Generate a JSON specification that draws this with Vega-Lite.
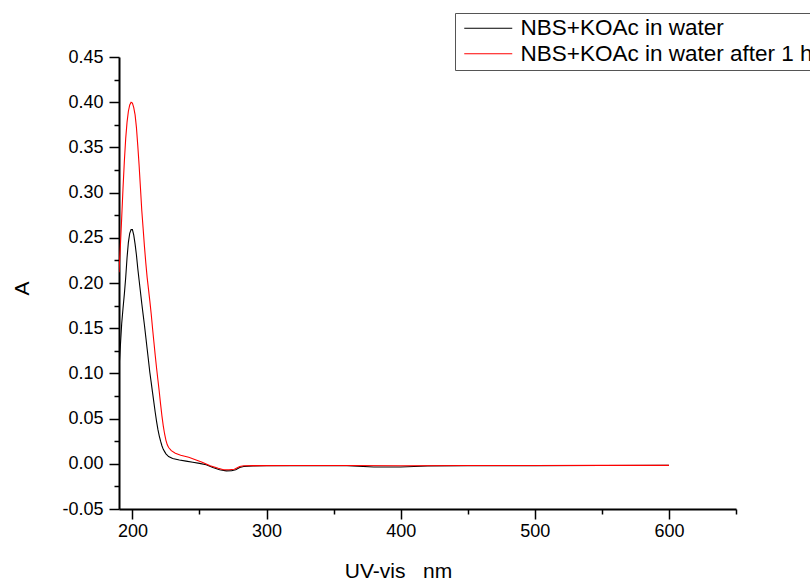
{
  "$schema": "https://vega.github.io/schema/vega-lite/v6.json",
  "width": 617,
  "height": 452,
  "autosize": {"type": "none"},
  "padding": {"left": 119, "top": 57, "right": 74, "bottom": 72},
  "background": "white",
  "config": {
    "view": {"stroke": null},
    "font": "Liberation Sans",
    "axis": {"grid": false, "domainColor": "#000", "tickColor": "#000", "labelColor": "#000", "titleColor": "#000", "labelFont": "Liberation Sans", "titleFont": "Liberation Sans", "titleFontWeight": "normal", "domainWidth": 2, "tickWidth": 1.5}
  },
  "datasets": {
    "spec": [
      {"nm": 190, "A": 0.105, "s": "NBS+KOAc in water"},
      {"nm": 191, "A": 0.13, "s": "NBS+KOAc in water"},
      {"nm": 192, "A": 0.155, "s": "NBS+KOAc in water"},
      {"nm": 193, "A": 0.172, "s": "NBS+KOAc in water"},
      {"nm": 194, "A": 0.188, "s": "NBS+KOAc in water"},
      {"nm": 195, "A": 0.206, "s": "NBS+KOAc in water"},
      {"nm": 196, "A": 0.228, "s": "NBS+KOAc in water"},
      {"nm": 197, "A": 0.245, "s": "NBS+KOAc in water"},
      {"nm": 198, "A": 0.255, "s": "NBS+KOAc in water"},
      {"nm": 199, "A": 0.259, "s": "NBS+KOAc in water"},
      {"nm": 200, "A": 0.259, "s": "NBS+KOAc in water"},
      {"nm": 201, "A": 0.253, "s": "NBS+KOAc in water"},
      {"nm": 202, "A": 0.243, "s": "NBS+KOAc in water"},
      {"nm": 203, "A": 0.231, "s": "NBS+KOAc in water"},
      {"nm": 204, "A": 0.216, "s": "NBS+KOAc in water"},
      {"nm": 205, "A": 0.203, "s": "NBS+KOAc in water"},
      {"nm": 206, "A": 0.19, "s": "NBS+KOAc in water"},
      {"nm": 207, "A": 0.177, "s": "NBS+KOAc in water"},
      {"nm": 208, "A": 0.165, "s": "NBS+KOAc in water"},
      {"nm": 209, "A": 0.153, "s": "NBS+KOAc in water"},
      {"nm": 210, "A": 0.14, "s": "NBS+KOAc in water"},
      {"nm": 211, "A": 0.127, "s": "NBS+KOAc in water"},
      {"nm": 212, "A": 0.114, "s": "NBS+KOAc in water"},
      {"nm": 213, "A": 0.101, "s": "NBS+KOAc in water"},
      {"nm": 214, "A": 0.09, "s": "NBS+KOAc in water"},
      {"nm": 215, "A": 0.079, "s": "NBS+KOAc in water"},
      {"nm": 216, "A": 0.068, "s": "NBS+KOAc in water"},
      {"nm": 217, "A": 0.057, "s": "NBS+KOAc in water"},
      {"nm": 218, "A": 0.047, "s": "NBS+KOAc in water"},
      {"nm": 219, "A": 0.038, "s": "NBS+KOAc in water"},
      {"nm": 220, "A": 0.031, "s": "NBS+KOAc in water"},
      {"nm": 221, "A": 0.025, "s": "NBS+KOAc in water"},
      {"nm": 222, "A": 0.02, "s": "NBS+KOAc in water"},
      {"nm": 223, "A": 0.016, "s": "NBS+KOAc in water"},
      {"nm": 224, "A": 0.0135, "s": "NBS+KOAc in water"},
      {"nm": 225, "A": 0.011, "s": "NBS+KOAc in water"},
      {"nm": 227, "A": 0.008, "s": "NBS+KOAc in water"},
      {"nm": 230, "A": 0.0058, "s": "NBS+KOAc in water"},
      {"nm": 235, "A": 0.0042, "s": "NBS+KOAc in water"},
      {"nm": 240, "A": 0.003, "s": "NBS+KOAc in water"},
      {"nm": 245, "A": 0.0018, "s": "NBS+KOAc in water"},
      {"nm": 250, "A": 0.0005, "s": "NBS+KOAc in water"},
      {"nm": 255, "A": -0.001, "s": "NBS+KOAc in water"},
      {"nm": 260, "A": -0.004, "s": "NBS+KOAc in water"},
      {"nm": 265, "A": -0.0065, "s": "NBS+KOAc in water"},
      {"nm": 270, "A": -0.0078, "s": "NBS+KOAc in water"},
      {"nm": 274, "A": -0.0077, "s": "NBS+KOAc in water"},
      {"nm": 277, "A": -0.0065, "s": "NBS+KOAc in water"},
      {"nm": 280, "A": -0.004, "s": "NBS+KOAc in water"},
      {"nm": 283, "A": -0.003, "s": "NBS+KOAc in water"},
      {"nm": 290, "A": -0.0025, "s": "NBS+KOAc in water"},
      {"nm": 300, "A": -0.0022, "s": "NBS+KOAc in water"},
      {"nm": 320, "A": -0.002, "s": "NBS+KOAc in water"},
      {"nm": 340, "A": -0.0022, "s": "NBS+KOAc in water"},
      {"nm": 360, "A": -0.002, "s": "NBS+KOAc in water"},
      {"nm": 380, "A": -0.0035, "s": "NBS+KOAc in water"},
      {"nm": 400, "A": -0.0036, "s": "NBS+KOAc in water"},
      {"nm": 420, "A": -0.0025, "s": "NBS+KOAc in water"},
      {"nm": 450, "A": -0.002, "s": "NBS+KOAc in water"},
      {"nm": 500, "A": -0.002, "s": "NBS+KOAc in water"},
      {"nm": 550, "A": -0.0018, "s": "NBS+KOAc in water"},
      {"nm": 600, "A": -0.0017, "s": "NBS+KOAc in water"},
      {"nm": 190, "A": 0.212, "s": "NBS+KOAc in water after 1 h"},
      {"nm": 191, "A": 0.24, "s": "NBS+KOAc in water after 1 h"},
      {"nm": 192, "A": 0.272, "s": "NBS+KOAc in water after 1 h"},
      {"nm": 193, "A": 0.305, "s": "NBS+KOAc in water after 1 h"},
      {"nm": 194, "A": 0.335, "s": "NBS+KOAc in water after 1 h"},
      {"nm": 195, "A": 0.36, "s": "NBS+KOAc in water after 1 h"},
      {"nm": 196, "A": 0.378, "s": "NBS+KOAc in water after 1 h"},
      {"nm": 197, "A": 0.39, "s": "NBS+KOAc in water after 1 h"},
      {"nm": 198, "A": 0.397, "s": "NBS+KOAc in water after 1 h"},
      {"nm": 199, "A": 0.4, "s": "NBS+KOAc in water after 1 h"},
      {"nm": 200, "A": 0.399, "s": "NBS+KOAc in water after 1 h"},
      {"nm": 201, "A": 0.394, "s": "NBS+KOAc in water after 1 h"},
      {"nm": 202, "A": 0.386, "s": "NBS+KOAc in water after 1 h"},
      {"nm": 203, "A": 0.372, "s": "NBS+KOAc in water after 1 h"},
      {"nm": 204, "A": 0.352, "s": "NBS+KOAc in water after 1 h"},
      {"nm": 205, "A": 0.33, "s": "NBS+KOAc in water after 1 h"},
      {"nm": 206, "A": 0.305, "s": "NBS+KOAc in water after 1 h"},
      {"nm": 207, "A": 0.28, "s": "NBS+KOAc in water after 1 h"},
      {"nm": 208, "A": 0.26, "s": "NBS+KOAc in water after 1 h"},
      {"nm": 209, "A": 0.24, "s": "NBS+KOAc in water after 1 h"},
      {"nm": 210, "A": 0.222, "s": "NBS+KOAc in water after 1 h"},
      {"nm": 211, "A": 0.206, "s": "NBS+KOAc in water after 1 h"},
      {"nm": 212, "A": 0.193, "s": "NBS+KOAc in water after 1 h"},
      {"nm": 213, "A": 0.18, "s": "NBS+KOAc in water after 1 h"},
      {"nm": 214, "A": 0.166, "s": "NBS+KOAc in water after 1 h"},
      {"nm": 215, "A": 0.15, "s": "NBS+KOAc in water after 1 h"},
      {"nm": 216, "A": 0.135, "s": "NBS+KOAc in water after 1 h"},
      {"nm": 217, "A": 0.12, "s": "NBS+KOAc in water after 1 h"},
      {"nm": 218, "A": 0.106, "s": "NBS+KOAc in water after 1 h"},
      {"nm": 219, "A": 0.093, "s": "NBS+KOAc in water after 1 h"},
      {"nm": 220, "A": 0.08, "s": "NBS+KOAc in water after 1 h"},
      {"nm": 221, "A": 0.066, "s": "NBS+KOAc in water after 1 h"},
      {"nm": 222, "A": 0.053, "s": "NBS+KOAc in water after 1 h"},
      {"nm": 223, "A": 0.042, "s": "NBS+KOAc in water after 1 h"},
      {"nm": 224, "A": 0.033, "s": "NBS+KOAc in water after 1 h"},
      {"nm": 225, "A": 0.026, "s": "NBS+KOAc in water after 1 h"},
      {"nm": 226, "A": 0.021, "s": "NBS+KOAc in water after 1 h"},
      {"nm": 227, "A": 0.018, "s": "NBS+KOAc in water after 1 h"},
      {"nm": 229, "A": 0.0145, "s": "NBS+KOAc in water after 1 h"},
      {"nm": 232, "A": 0.0116, "s": "NBS+KOAc in water after 1 h"},
      {"nm": 236, "A": 0.0095, "s": "NBS+KOAc in water after 1 h"},
      {"nm": 242, "A": 0.0072, "s": "NBS+KOAc in water after 1 h"},
      {"nm": 248, "A": 0.004, "s": "NBS+KOAc in water after 1 h"},
      {"nm": 252, "A": 0.0018, "s": "NBS+KOAc in water after 1 h"},
      {"nm": 258, "A": -0.0022, "s": "NBS+KOAc in water after 1 h"},
      {"nm": 264, "A": -0.005, "s": "NBS+KOAc in water after 1 h"},
      {"nm": 268, "A": -0.0065, "s": "NBS+KOAc in water after 1 h"},
      {"nm": 272, "A": -0.0066, "s": "NBS+KOAc in water after 1 h"},
      {"nm": 276, "A": -0.006, "s": "NBS+KOAc in water after 1 h"},
      {"nm": 280, "A": -0.003, "s": "NBS+KOAc in water after 1 h"},
      {"nm": 283, "A": -0.0022, "s": "NBS+KOAc in water after 1 h"},
      {"nm": 290, "A": -0.002, "s": "NBS+KOAc in water after 1 h"},
      {"nm": 320, "A": -0.0018, "s": "NBS+KOAc in water after 1 h"},
      {"nm": 360, "A": -0.0019, "s": "NBS+KOAc in water after 1 h"},
      {"nm": 400, "A": -0.0022, "s": "NBS+KOAc in water after 1 h"},
      {"nm": 450, "A": -0.0019, "s": "NBS+KOAc in water after 1 h"},
      {"nm": 500, "A": -0.0018, "s": "NBS+KOAc in water after 1 h"},
      {"nm": 550, "A": -0.0017, "s": "NBS+KOAc in water after 1 h"},
      {"nm": 600, "A": -0.0017, "s": "NBS+KOAc in water after 1 h"}
    ]
  },
  "data": {"name": "spec"},
  "layer": [
    {
      "mark": {"type": "line", "strokeWidth": 1.1, "clip": true},
      "encoding": {
        "x": {"field": "nm", "type": "quantitative",
          "scale": {"domain": [190, 650], "nice": false, "zero": false},
          "axis": {"orient": "bottom", "values": [200, 300, 400, 500, 600], "tickSize": 10, "labelFontSize": 18, "labelPadding": 3, "labelFlush": false,
            "title": "UV-vis\u00a0\u00a0\u00a0nm", "titleFontSize": 21, "titleBaseline": "alphabetic", "titleAlign": "center", "titleX": 279, "titleY": 68}},
        "y": {"field": "A", "type": "quantitative",
          "scale": {"domain": [-0.05, 0.45], "nice": false, "zero": false},
          "axis": {"orient": "left", "values": [-0.05, 0, 0.05, 0.1, 0.15, 0.2, 0.25, 0.3, 0.35, 0.4, 0.45], "tickSize": 10, "labelFontSize": 18, "labelPadding": 6, "labelFlush": false,
            "labelExpr": "replace(format(datum.value, '.2f'), '\u2212', '-')",
            "title": "A", "titleFontSize": 21, "titleBaseline": "alphabetic", "titleAlign": "center", "titleAngle": -90, "titleX": -91, "titleY": 231}},
        "color": {"field": "s", "type": "nominal",
          "scale": {"domain": ["NBS+KOAc in water", "NBS+KOAc in water after 1 h"], "range": ["#000000", "#ff0000"]},
          "legend": {"orient": "none", "legendX": 336, "legendY": -44, "title": null,
            "symbolType": "M-1,0H7", "symbolSize": 144, "symbolStrokeWidth": 1,
            "labelFontSize": 22.5, "labelFont": "Liberation Sans", "labelColor": "#000", "labelLimit": 0,
            "strokeColor": "#555", "padding": 4, "rowPadding": 2.5, "labelOffset": 39}}
      }
    },
    {
      "mark": {"type": "point", "opacity": 0},
      "encoding": {
        "x": {"field": "nm", "type": "quantitative",
          "axis": {"orient": "bottom", "values": [250, 350, 450, 550, 650], "tickSize": 5, "labels": false, "domain": false, "title": null}},
        "y": {"field": "A", "type": "quantitative",
          "axis": {"orient": "left", "values": [-0.025, 0.025, 0.075, 0.125, 0.175, 0.225, 0.275, 0.325, 0.375, 0.425], "tickSize": 5, "labels": false, "domain": false, "title": null}}
      }
    }
  ],
  "resolve": {"axis": {"x": "independent", "y": "independent"}}
}
